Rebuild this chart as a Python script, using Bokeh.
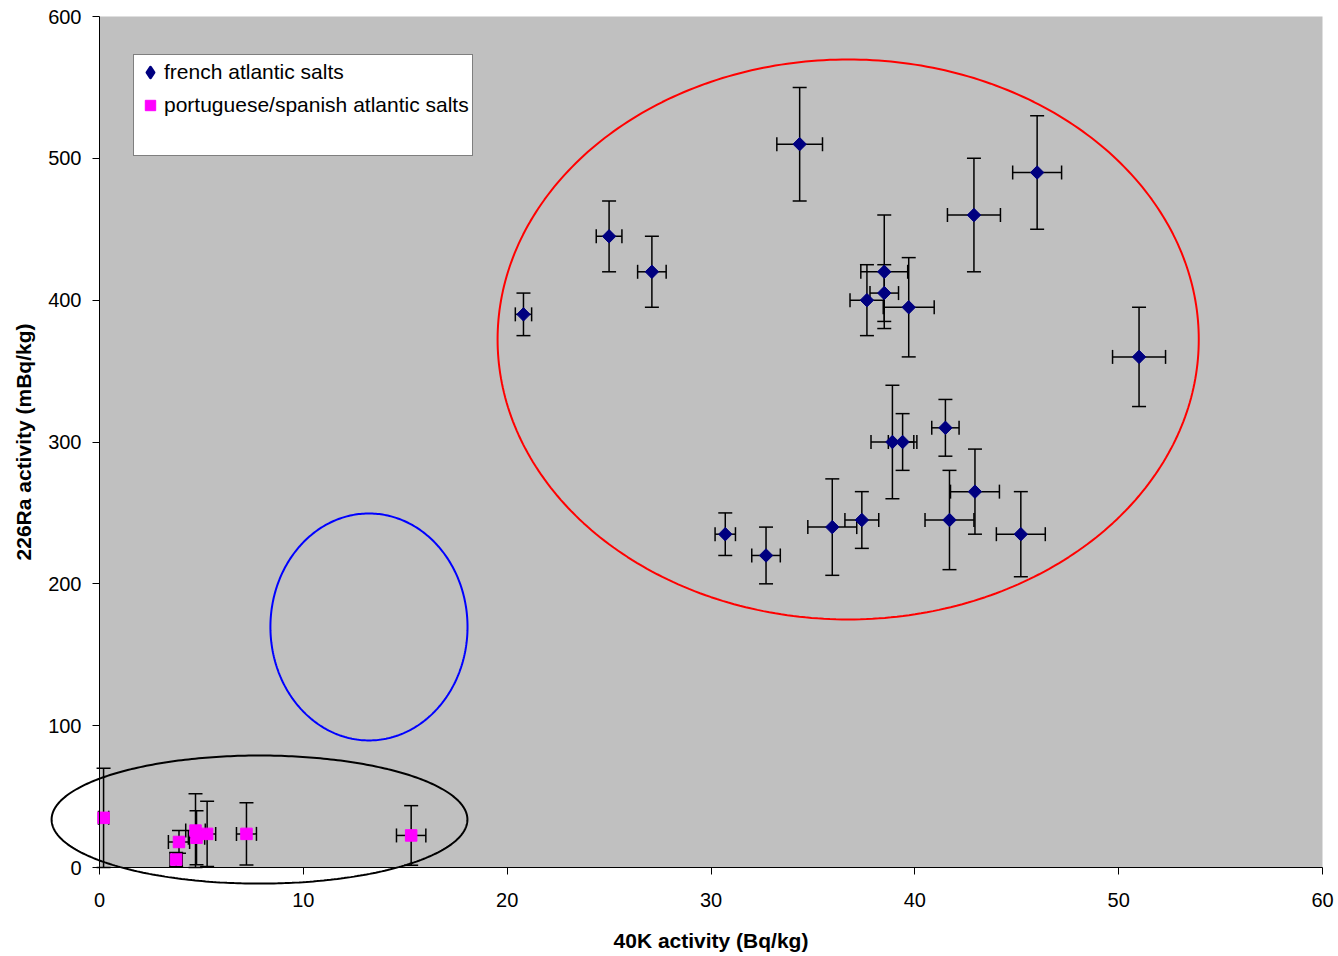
import numpy as np
from bokeh.plotting import figure
from bokeh.models import (ColumnDataSource, Whisker, TeeHead, PolyAnnotation,
                          BoxAnnotation, Legend, LegendItem, Range1d, FixedTicker)
from bokeh.embed import file_html
from bokeh.resources import INLINE

# ---- data ----
fr_x = [20.8, 25.0, 27.1, 34.35, 38.5, 38.5, 37.65, 39.7, 51.0, 38.9, 39.4,
        41.5, 42.95, 41.7, 45.2, 35.95, 37.4, 30.7, 32.7, 42.9, 46.0]
fr_y = [390, 445, 420, 510, 420, 405, 400, 395, 360, 300, 300,
        310, 265, 245, 235, 240, 245, 235, 220, 460, 490]
fr_xerr = [0.4, 0.63, 0.7, 1.12, 1.15, 0.7, 0.83, 1.25, 1.3, 1.05, 0.7,
           0.67, 1.2, 1.2, 1.2, 1.2, 0.83, 0.5, 0.7, 1.3, 1.2]
fr_yerr = [15, 25, 25, 40, 40, 20, 25, 35, 35, 40, 20,
           20, 30, 35, 30, 34, 20, 15, 20, 40, 40]

pt_x = [0.2, 3.9, 3.76, 4.71, 4.76, 5.28, 7.21, 15.29]
pt_y = [35, 18, 5.6, 26, 21, 23.7, 23.7, 22.6]
pt_xerr = [0.25, 0.52, 0.3, 0.48, 0.4, 0.42, 0.49, 0.72]
pt_yerr = [35, 8, 5, 26, 19, 23, 22, 21]

x_ticks = [0, 10, 20, 30, 40, 50, 60]
y_ticks = [0, 100, 200, 300, 400, 500, 600]

# ellipses: centre x, centre y, full width (x units), full height (y units), colour
ell_cx = [36.73, 13.22, 7.85]
ell_cy = [372.3, 169.6, 33.8]
ell_w = [34.4, 9.67, 20.4]
ell_h = [394.8, 160.0, 90.3]
ell_col = ["#FF0000", "#0000FF", "#000000"]

series_names = ["french atlantic salts", "portuguese/spanish atlantic salts"]

FONT = "Liberation Sans"

# ---- layout: frame covers the whole canvas, axes fixed at 0 ----
W, H = 1338, 956
PL, PR, PT, PB = 99, 1322, 16, 867       # pixel positions of x=0, x=60, y=600, y=0
XMAX, YMAX = 60, 600
sx = (PR - PL) / XMAX
sy = (PB - PT) / YMAX
x_range = Range1d(-PL / sx, XMAX + (W - PR) / sx)
y_range = Range1d(-(H - PB) / sy, YMAX + PT / sy)

p = figure(width=W, height=H, output_backend="svg", toolbar_location=None,
           title=None, x_range=x_range, y_range=y_range,
           min_border_left=0, min_border_right=0, min_border_top=0,
           min_border_bottom=0)
p.background_fill_color = "white"
p.border_fill_color = "white"
p.outline_line_color = None
p.grid.visible = False

# grey plot area
p.add_layout(BoxAnnotation(left=0, right=XMAX, bottom=0, top=YMAX,
                           fill_color="#C0C0C0", fill_alpha=1,
                           line_color=None, level="underlay"))

for ax in (p.xaxis[0], p.yaxis[0]):
    ax.fixed_location = 0
    ax.axis_line_color = "black"
    ax.axis_line_width = 1
    ax.major_tick_line_color = "black"
    ax.major_tick_out = 7
    ax.major_tick_in = 0
    ax.minor_tick_out = 0
    ax.minor_tick_in = 0
    ax.major_label_text_font = FONT
    ax.major_label_text_font_size = "20px"
    ax.major_label_text_color = "black"
    ax.axis_label_text_font = FONT
    ax.axis_label_text_font_size = "21px"
    ax.axis_label_text_font_style = "bold"
    ax.axis_label_text_color = "black"

p.xaxis.bounds = (0, XMAX)
p.yaxis.bounds = (0, YMAX)
p.xaxis.ticker = FixedTicker(ticks=x_ticks)
p.yaxis.ticker = FixedTicker(ticks=y_ticks)
p.xaxis.axis_label = "40K activity (Bq/kg)"
p.yaxis.axis_label = "226Ra activity (mBq/kg)"
p.xaxis.major_label_standoff = 18
p.yaxis.major_label_standoff = 11
p.xaxis.axis_label_standoff = 19
p.yaxis.axis_label_standoff = 10

# sources
fr = ColumnDataSource(dict(
    x=fr_x, y=fr_y,
    xl=np.array(fr_x) - np.array(fr_xerr), xu=np.array(fr_x) + np.array(fr_xerr),
    yl=np.array(fr_y) - np.array(fr_yerr), yu=np.array(fr_y) + np.array(fr_yerr)))
pt = ColumnDataSource(dict(
    x=pt_x, y=pt_y,
    xl=np.array(pt_x) - np.array(pt_xerr), xu=np.array(pt_x) + np.array(pt_xerr),
    yl=np.maximum(0, np.array(pt_y) - np.array(pt_yerr)),
    yu=np.array(pt_y) + np.array(pt_yerr)))


def add_err(src):
    for dim, base, lo, hi in (("height", "x", "yl", "yu"), ("width", "y", "xl", "xu")):
        w = Whisker(source=src, base=base, lower=lo, upper=hi, dimension=dim,
                    line_color="black", line_width=1.5,
                    upper_head=TeeHead(size=14, line_color="black", line_width=1.5),
                    lower_head=TeeHead(size=14, line_color="black", line_width=1.5))
        p.add_layout(w)


add_err(fr)
add_err(pt)

# french: rhombus (rotated square); a same-coloured diamond inside it serves as legend key
r_fr = p.scatter("x", "y", source=fr, marker="square", angle=np.pi / 4,
                 size=9.5, fill_color="#000080", line_color="#000080")
r_fr_key = p.scatter("x", "y", source=fr, marker="diamond", size=9,
                     fill_color="#000080", line_color="#000080", line_width=3,
                     line_join="round")
r_pt = p.scatter("x", "y", source=pt, marker="square", size=11.5,
                 fill_color="#FF00FF", line_color="#FF00FF")
r_blank = p.scatter(x=[], y=[], size=1, fill_alpha=0, line_alpha=0)

# ellipses
t = np.linspace(0, 2 * np.pi, 361)
for cx, cy, w, h, c in zip(ell_cx, ell_cy, ell_w, ell_h, ell_col):
    p.add_layout(PolyAnnotation(xs=list(cx + w / 2 * np.cos(t)),
                                ys=list(cy + h / 2 * np.sin(t)),
                                fill_alpha=0, line_color=c, line_alpha=1,
                                line_width=2))

legend = Legend(items=[LegendItem(label=series_names[0], renderers=[r_fr_key]),
                       LegendItem(label=series_names[1], renderers=[r_pt]),
                       LegendItem(label=" ", renderers=[r_blank])],
                location=(133, H - 156), margin=0, padding=3, spacing=5,
                label_height=28, glyph_height=28, glyph_width=26,
                label_standoff=1, label_text_font=FONT,
                label_text_font_size="21px", label_text_color="black",
                border_line_color="black", border_line_width=1,
                background_fill_color="white", background_fill_alpha=1)
p.add_layout(legend)

open("out.html", "w").write(file_html(p, INLINE))
